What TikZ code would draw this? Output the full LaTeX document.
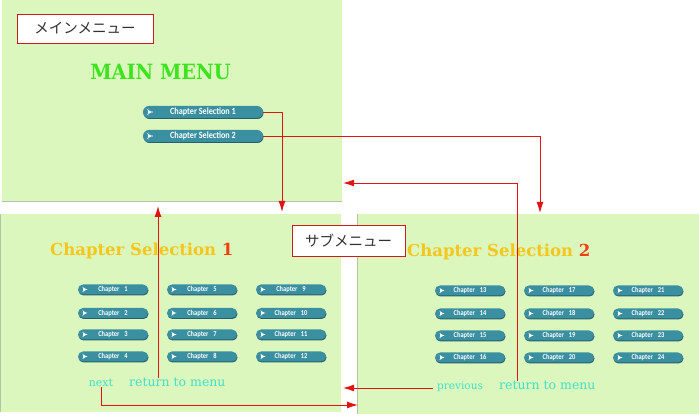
\documentclass[tikz,border=0pt]{standalone}
\usepackage{fontspec}
\setmainfont{DejaVu Serif}
\newfontfamily\titlefont{DejaVu Serif}
\newfontfamily\menufont{DejaVu Serif}[FakeStretch=0.92]
\newfontfamily\btnfont{Carlito}[FakeStretch=0.86]
\newfontfamily\cjk{Noto Sans CJK JP}
\usetikzlibrary{arrows.meta,shadows}
\definecolor{panelgreen}{RGB}{219,247,189}
\definecolor{paneledge}{RGB}{180,196,165}
\definecolor{btnfill}{RGB}{58,143,160}
\definecolor{btnshadow}{RGB}{36,96,110}
\definecolor{labelred}{RGB}{200,30,30}
\definecolor{arrred}{RGB}{225,20,20}
\definecolor{menugreen}{RGB}{60,228,30}
\definecolor{titleyellow}{RGB}{246,198,26}
\definecolor{titlered}{RGB}{240,64,15}
\definecolor{linkcyan}{RGB}{64,224,200}
\definecolor{cjkgray}{RGB}{50,50,50}
\tikzset{
  panel/.style={fill=panelgreen, draw=none, anchor=north west, inner sep=0, outer sep=0},
  labelbox/.style={draw=labelred, fill=white, line width=0.9pt, font=\cjk\fontsize{14.5}{14.5}\selectfont, text=cjkgray, inner sep=0},
  btnbase/.style={fill=btnfill, text=white, inner sep=0,
    drop shadow={shadow xshift=0.5pt,shadow yshift=-1pt,fill=btnshadow,opacity=1},
    path picture={\fill[white] ([xshift=5pt,yshift=2.2pt]path picture bounding box.west) -- ++(3.6pt,-2.2pt) -- ++(-3.6pt,-2.2pt) -- cycle;}},
  mainbtn/.style={btnbase, minimum width=120pt, minimum height=12pt, rounded corners=6pt, font=\btnfont\bfseries\fontsize{9.5}{10}\selectfont},
  chbtn/.style={btnbase, minimum width=70pt, minimum height=10pt, rounded corners=5pt, font=\btnfont\bfseries\fontsize{7.5}{8}\selectfont},
  title/.style={font=\titlefont\bfseries\fontsize{16.5}{18}\selectfont, text=titleyellow, inner sep=0, anchor=base west},
  link/.style={text=linkcyan, inner sep=0},
  arr/.style={draw=arrred, line width=0.9pt, -{Latex[length=11pt,width=7pt]}}
}
\begin{document}
\begin{tikzpicture}[x=1pt,y=-1pt]
\useasboundingbox (0,0) rectangle (699,419);
% panels
\node[panel, minimum width=340pt, minimum height=201pt] (p1) at (2,0) {};
\node[panel, minimum width=341pt, minimum height=198pt] (p2) at (0,214) {};
\node[panel, minimum width=342pt, minimum height=200pt] (p3) at (357,214) {};
\draw[paneledge, line width=0.8pt] (p1.south west) -- (p1.south east);
\draw[paneledge, line width=0.8pt] ([xshift=0.5pt]p2.north west) -- ([xshift=0.5pt]p2.south west);
\draw[paneledge, line width=0.8pt] ([xshift=0.5pt]p3.north west) -- ([xshift=0.5pt]p3.south west);
% labels
\node[labelbox, minimum width=136pt, minimum height=29pt] (l1) at (85,28.5) {メインメニュー};
% main menu
\node[font=\menufont\bfseries\fontsize{21}{22}\selectfont, text=menugreen, inner sep=0, anchor=base] (mm) at (160.5,80) {MAIN MENU};
\node[mainbtn] (cs1) at (203,112) {Chapter Selection 1};
\node[mainbtn] (cs2) at (203,136) {Chapter Selection 2};
% panel 2
\node[title] (t1) at (50,255.5) {Chapter Selection \textcolor{titlered}{1}};
\foreach \col/\cx in {0/113,1/202,2/291}
  \foreach \row/\cy in {0/289.5,1/313,2/334.5,3/356.5} {
    \pgfmathtruncatemacro\n{\col*4+\row+1}
    \node[chbtn] (c\n) at (\cx,\cy) {Chapter\hspace{5pt}\n};
  }
\node[link, font=\fontsize{11}{12}\selectfont, anchor=base] (next) at (101,387) {next};
\node[link, font=\fontsize{12.5}{13}\selectfont, anchor=base west] (ret1) at (129,387) {return to menu};
% panel 3
\node[title] (t2) at (407,256.5) {Chapter Selection \textcolor{titlered}{2}};
\foreach \col/\cx in {0/470,1/559,2/648}
  \foreach \row/\cy in {0/290.5,1/313.5,2/335.5,3/357.5} {
    \pgfmathtruncatemacro\n{\col*4+\row+13}
    \node[chbtn] (c\n) at (\cx,\cy) {Chapter\hspace{5pt}\n};
  }
\node[link, font=\fontsize{10.5}{12}\selectfont, anchor=base west] (prev) at (437,390) {previous};
\node[link, font=\fontsize{12.5}{13}\selectfont, anchor=base west] (ret2) at (499,390) {return to menu};
% label 2
\node[labelbox, minimum width=113pt, minimum height=31pt] (l2) at (348.5,240.5) {サブメニュー};
% arrow end points
\coordinate (a1) at (282,212);
\coordinate (a2) at (540,213);
\coordinate (a3) at (343,183);
\coordinate (a4) at (158,206);
\coordinate (a5) at (358,405);
\coordinate (a6) at (343,388);
\coordinate (v3) at (517,0);
% connectors
\draw[arr] (cs1.east) -| (a1);
\draw[arr] (cs2.east) -| (a2);
\draw[arr] (v3 |- ret2.north) |- (a3);
\draw[arr] (a4 |- ret1.north) -- (a4);
\draw[arr] (next.south) |- (a5);
\draw[arr] ([xshift=-4pt]a6 -| prev.west) -- (a6);
\end{tikzpicture}
\end{document}
